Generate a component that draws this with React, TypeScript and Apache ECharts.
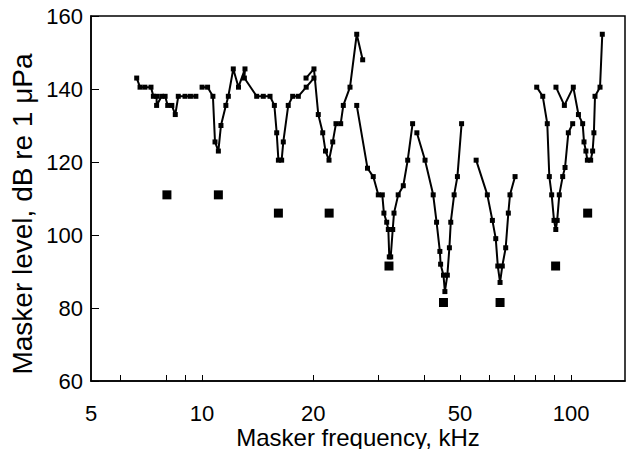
import React, { useEffect, useRef } from "react";
import * as echarts from "echarts";

// Tick positions / labels
const xTickLabels = [5, 10, 20, 50, 100];
const xTickMarks = [6, 8, 9, 10, 20, 30, 40, 50, 60, 70, 80, 90, 100];

// Tuning-curve segments: [frequency kHz, masker level dB]
const curve1 = [
  [6.65, 143], [6.79, 140.5], [7.0, 140.5], [7.27, 140.5], [7.38, 138], [7.53, 138],
  [7.53, 135.5], [7.77, 138], [7.94, 138], [8.07, 135.5], [8.28, 135.5], [8.46, 133],
  [8.62, 138], [8.99, 138], [9.3, 138], [9.62, 138],
];
const curve2 = [
  [10.0, 140.5], [10.35, 140.5], [10.7, 138], [10.84, 125.5], [11.07, 123], [11.25, 130],
  [11.6, 135.5], [11.78, 138], [12.15, 145.5], [12.55, 140.5], [13.07, 145.5], [13.02, 143],
  [14.06, 138], [14.65, 138], [15.28, 138], [15.7, 135.5], [15.93, 128], [16.1, 120.5],
  [16.43, 120.5], [16.6, 125.5], [17.12, 135.5], [17.6, 138], [18.23, 138], [19.15, 140.5],
  [20.1, 143],
];
const curve3 = [
  [19.13, 143], [20.1, 145.5], [20.65, 133], [21.23, 128], [21.6, 123], [22.08, 120.5],
  [22.6, 125.5], [23.06, 130.5], [23.75, 130.5], [24.14, 135.5], [25.17, 140.5],
  [26.25, 155], [27.24, 148],
];
const curve4 = [
  [26.25, 135.5], [28.07, 118.3], [29.1, 116], [30.03, 111], [30.79, 111], [31.1, 106],
  [31.65, 103.5], [31.97, 101.5], [32.16, 94], [32.45, 94], [32.86, 101.5], [33.12, 106],
  [34.0, 111], [35.1, 113.5], [36.08, 120.5], [37.2, 130.5],
];
const curve5 = [
  [38.2, 128], [40.2, 120.5], [42.3, 111], [43.2, 103.5], [44.1, 95.5], [44.3, 92],
  [45.1, 89], [45.5, 84.5], [46.2, 89], [46.8, 96.5], [47.2, 103.5], [48.2, 111],
  [49.2, 116], [50.5, 130.5],
];
const curve6 = [
  [55.3, 120.5], [59.3, 111], [61.2, 104], [62.5, 99], [63.3, 91.5], [64.2, 87],
  [65.1, 91.5], [66.5, 96.5], [67.6, 106], [68.3, 111], [70.5, 116],
];
const curve7 = [
  [80.7, 140.5], [83.8, 138], [86.2, 130.5], [87.3, 116], [88.6, 111], [89.9, 104],
  [90.9, 101.5], [91.7, 104], [92.9, 111], [94.9, 116], [96.3, 118.5], [98.3, 128],
  [101, 130.5],
];
const curve8 = [
  [91.0, 140.5], [95.9, 135.5], [101.4, 140.5], [104.7, 133], [107.5, 130.5],
  [108.4, 125.5], [109.7, 123], [110.7, 120.5], [113, 120.5], [114.4, 123], [115.3, 128],
  [116.1, 138], [119.8, 140.5], [121.5, 155],
];
const thresholds = [
  [8.03, 111], [11.07, 111], [16.1, 106], [22.1, 106], [32.1, 91.5], [45.1, 81.5],
  [64.2, 81.5], [90.8, 91.5], [110.9, 106],
];

const curves = [curve1, curve2, curve3, curve4, curve5, curve6, curve7, curve8];

const FONT = "'Liberation Sans', Arial, Helvetica, sans-serif";

export default function App() {
  const ref = useRef<HTMLDivElement>(null);
  useEffect(() => {
    if (!ref.current) return;
    const chart = echarts.init(ref.current, undefined, { renderer: "svg" });
    const lineSeries = curves.map((c) => ({
      type: "line",
      data: c,
      symbol: "rect",
      symbolSize: 5,
      showSymbol: true,
      lineStyle: { color: "#000", width: 2 },
      itemStyle: { color: "#000", opacity: 1 },
      silent: true,
    }));
    chart.setOption({
      animation: false,
      grid: {
        left: 91,
        right: 2,
        top: 16,
        bottom: 68,
        show: true,
        borderColor: "#000",
        borderWidth: 1.5,
        containLabel: false,
        outerBoundsMode: "none",
      },
      graphic: [
        {
          type: "text",
          x: 22,
          y: 214,
          rotation: Math.PI / 2,
          style: {
            text: "Masker level, dB re 1 \u03bcPa",
            font: `28px ${FONT}`,
            fill: "#000",
            align: "center",
            verticalAlign: "middle",
          },
          silent: true,
        },
        {
          type: "text",
          x: 358,
          y: 437,
          style: {
            text: "Masker frequency, kHz",
            font: `24px ${FONT}`,
            fill: "#000",
            align: "center",
            verticalAlign: "middle",
          },
          silent: true,
        },
      ],
      xAxis: {
        type: "log",
        logBase: 10,
        min: 5,
        max: 140,
        axisLine: { lineStyle: { color: "#000", width: 1.5 } },
        splitLine: { show: false },
        minorTick: { show: false },
        axisTick: {
          show: true,
          inside: true,
          length: 6,
          customValues: xTickMarks,
          lineStyle: { color: "#000", width: 1 },
        },
        axisLabel: {
          customValues: xTickLabels,
          fontSize: 22,
          color: "#000",
          fontFamily: FONT,
          margin: 21,
          formatter: (v: number) => String(Math.round(v)),
        },
      },
      yAxis: {
        type: "value",
        min: 60,
        max: 160,
        interval: 20,
        axisLine: { show: true, lineStyle: { color: "#000", width: 1.5 } },
        splitLine: { show: false },
        axisTick: { show: true, inside: true, length: 8, lineStyle: { color: "#000" } },
        axisLabel: { fontSize: 22, color: "#000", fontFamily: FONT, margin: 8 },
      },
      series: [
        ...lineSeries,
        {
          type: "scatter",
          data: thresholds,
          symbol: "rect",
          symbolSize: 9,
          itemStyle: { color: "#000", opacity: 1 },
          silent: true,
        },
      ],
    });
    return () => chart.dispose();
  }, []);
  return (
    <div
      ref={ref}
      style={{ position: "absolute", left: 0, top: 0, width: 627, height: 449, background: "#fff" }}
    />
  );
}
